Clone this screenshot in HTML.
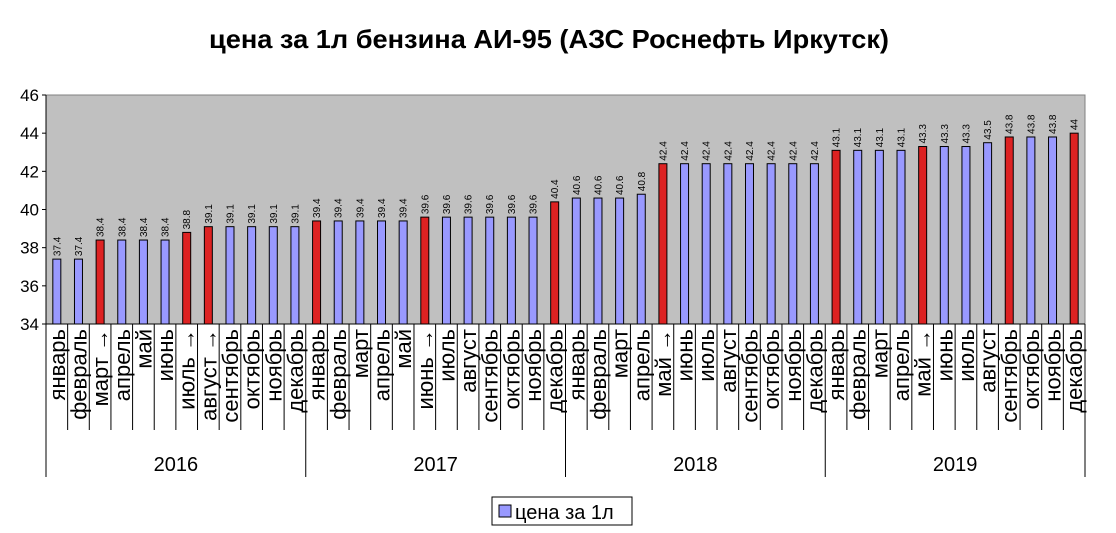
<!DOCTYPE html>
<html><head><meta charset="utf-8"><style>
body{margin:0;background:#fff;}
svg{display:block;font-family:"Liberation Sans",Arial,sans-serif;}
</style></head><body>
<svg id="chart" width="1116" height="533" viewBox="0 0 1116 533">
<text x="549" y="48" text-anchor="middle" font-size="26" font-weight="bold" textLength="680" lengthAdjust="spacingAndGlyphs">цена за 1л бензина АИ-95 (АЗС Роснефть Иркутск)</text>
<rect x="46" y="95" width="1039" height="229" fill="#c0c0c0" stroke="#808080"/>
<g id="bars"></g>
<g id="axes"></g>
<g>
<rect x="492" y="497" width="140" height="28" fill="#fff" stroke="#000"/>
<rect x="499" y="505" width="12" height="12" fill="#9999ff" stroke="#000"/>
<text x="515" y="519" font-size="20">цена за 1л</text>
</g>
</svg>
<script>
const years = ["2016","2017","2018","2019"];
const months = ["январь","февраль","март →","апрель","май","июнь","июль →","август →","сентябрь","октябрь","ноябрь","декабрь",
"январь","февраль","март","апрель","май","июнь →","июль","август","сентябрь","октябрь","ноябрь","декабрь",
"январь","февраль","март","апрель","май →","июнь","июль","август","сентябрь","октябрь","ноябрь","декабрь",
"январь","февраль","март","апрель","май →","июнь","июль","август","сентябрь","октябрь","ноябрь","декабрь"];
const prices = [37.4,37.4,38.4,38.4,38.4,38.4,38.8,39.1,39.1,39.1,39.1,39.1,
39.4,39.4,39.4,39.4,39.4,39.6,39.6,39.6,39.6,39.6,39.6,40.4,
40.6,40.6,40.6,40.8,42.4,42.4,42.4,42.4,42.4,42.4,42.4,42.4,
43.1,43.1,43.1,43.1,43.3,43.3,43.3,43.5,43.8,43.8,43.8,44];
const priceChange = [0,0,1,0,0,0,1,1,0,0,0,0, 1,0,0,0,0,1,0,0,0,0,0,1, 0,0,0,0,1,0,0,0,0,0,0,0, 1,0,0,0,1,0,0,0,1,0,0,1];
const yTicks = [34,36,38,40,42,44,46];

const NS="http://www.w3.org/2000/svg";
const L=46,R=1085,T=95,B=324,yMin=34,yMax=46;
const slot=(R-L)/prices.length;
const xC=i=>L+slot*(i+0.5);
const yS=v=>B-(v-yMin)/(yMax-yMin)*(B-T);
function mk(tag,attrs,parent,txt){const e=document.createElementNS(NS,tag);for(const k in attrs)e.setAttribute(k,attrs[k]);if(txt!==undefined)e.textContent=txt;parent.appendChild(e);return e;}
const bars=document.getElementById('bars'),axes=document.getElementById('axes');
prices.forEach((v,i)=>{
  const r=mk('rect',{x:xC(i)-4,y:yS(v),width:8,height:B-yS(v),fill:priceChange[i]?'#dd2222':'#9999ff',stroke:'#000','stroke-width':1},bars);
  
  
  const t=mk('text',{x:0,y:0,'font-size':10,transform:`translate(${xC(i)+3.5},${yS(v)-3}) rotate(-90)`},bars,String(v));
  
  
  const m=mk('text',{x:0,y:0,'font-size':22,'text-anchor':'end',transform:`translate(${xC(i)+8},${B+5}) rotate(-90)`},axes,months[i]);
  
  
});
mk('line',{x1:L,y1:B,x2:R,y2:B,stroke:'#000'},axes);
mk('line',{x1:L,y1:T,x2:L,y2:B,stroke:'#000'},axes);
for(let i=0;i<=prices.length;i++){
  const x=L+slot*i, big=(i%12===0);
  mk('line',{x1:x,y1:B,x2:x,y2:big?477:430,stroke:'#000'},axes);
}
years.forEach((y,k)=>{
  const t=mk('text',{x:L+slot*(k*12+6),y:471,'font-size':20,'text-anchor':'middle'},axes,y);
  
  
});
yTicks.forEach(v=>{
  mk('line',{x1:L-4,y1:yS(v),x2:L,y2:yS(v),stroke:'#000'},axes);
  const t=mk('text',{x:L-7,y:yS(v)+6,'font-size':17,'text-anchor':'end'},axes,String(v));
  
  
});
</script>
</body></html>
